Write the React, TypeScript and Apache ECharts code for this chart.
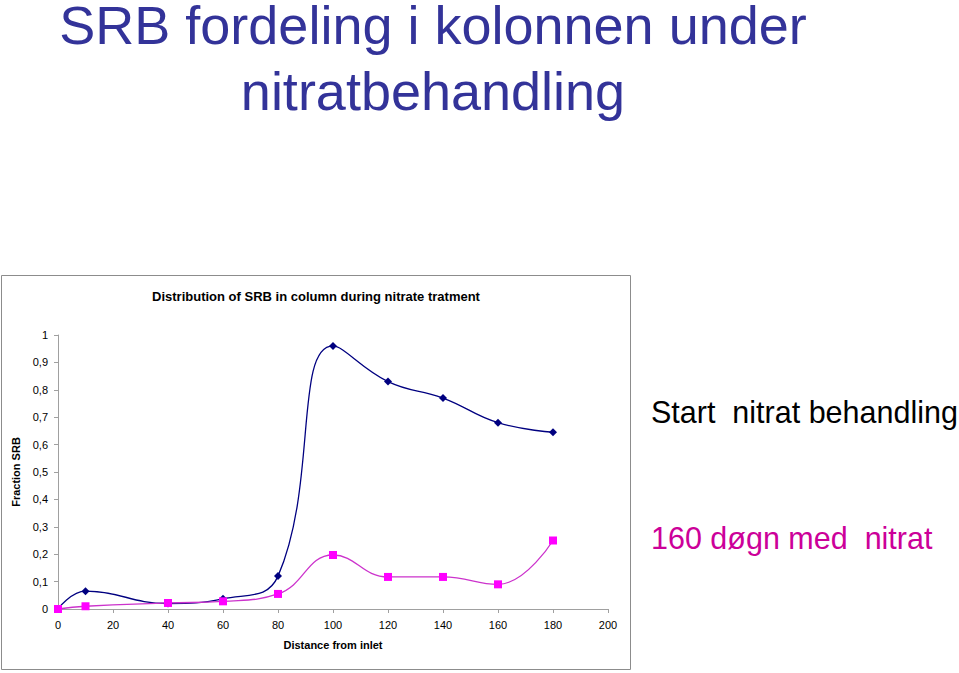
import React, { useEffect, useRef } from "react";
import * as echarts from "echarts";

const distances = [0, 10, 40, 60, 80, 100, 120, 140, 160, 180];
const startValues = [0, 0.065, 0.02, 0.037, 0.12, 0.96, 0.83, 0.77, 0.68, 0.645];
const after160Values = [0, 0.01, 0.022, 0.028, 0.055, 0.197, 0.117, 0.117, 0.09, 0.25];

const mainTitleLines = ["SRB fordeling i kolonnen under", "nitratbehandling"];
const chartTitle = "Distribution of SRB in column during nitrate tratment";
const yAxisName = "Fraction SRB";
const xAxisName = "Distance from inlet";
const startLabel = "Start  nitrat behandling";
const after160Label = "160 døgn med  nitrat";

const FONT = "Liberation Sans, Arial, Helvetica, sans-serif";

export default function App() {
  const ref = useRef<HTMLDivElement>(null);
  useEffect(() => {
    if (!ref.current) return;
    const chart = echarts.init(ref.current, null, { renderer: "svg" });
    const pair = (ys: number[]) => distances.map((d, i) => [d, ys[i]]);
    chart.setOption({
      animation: false,
      backgroundColor: "#ffffff",
      textStyle: { fontFamily: FONT },
      grid: { left: 58, right: 351, top: 335, bottom: 64, containLabel: false },
      xAxis: {
        type: "value",
        min: 0,
        max: 200,
        interval: 20,
        name: xAxisName,
        nameLocation: "middle",
        nameGap: 30,
        nameTextStyle: { fontFamily: FONT, fontSize: 11, fontWeight: "bold", color: "#000" },
        axisLine: { show: true, lineStyle: { color: "#a0a0a0", width: 1 } },
        axisTick: { show: true, inside: false, length: 4, lineStyle: { color: "#a0a0a0" } },
        axisLabel: { fontFamily: FONT, fontSize: 11, color: "#000", margin: 10 },
        splitLine: { show: false },
      },
      yAxis: {
        type: "value",
        min: 0,
        max: 1,
        interval: 0.1,
        name: yAxisName,
        nameLocation: "middle",
        nameGap: 31,
        nameRotate: 90,
        nameTextStyle: { fontFamily: FONT, fontSize: 11, fontWeight: "bold", color: "#000" },
        axisLine: { show: true, lineStyle: { color: "#a0a0a0", width: 1 } },
        axisTick: { show: true, inside: false, length: 4, lineStyle: { color: "#a0a0a0" } },
        axisLabel: {
          fontFamily: FONT,
          fontSize: 11,
          color: "#000",
          margin: 10,
          formatter: (v: number) => String(+v.toFixed(1)).replace(".", ","),
        },
        splitLine: { show: false },
      },
      series: [
        {
          name: startLabel,
          type: "line",
          data: pair(startValues),
          smooth: 0.45,
          symbol: "diamond",
          symbolSize: 8,
          lineStyle: { color: "#000080", width: 1.3 },
          itemStyle: { color: "#000080" },
          z: 2,
        },
        {
          name: after160Label,
          type: "line",
          data: pair(after160Values),
          smooth: 0.45,
          symbol: "rect",
          symbolSize: 8,
          lineStyle: { color: "#CC33CC", width: 1.3 },
          itemStyle: { color: "#FF00FF" },
          z: 3,
        },
      ],
      graphic: [
        {
          type: "rect",
          shape: { x: 1.5, y: 275.5, width: 629, height: 394 },
          style: { fill: "none", stroke: "#8c8c8c", lineWidth: 1 },
          z: -1,
          silent: true,
        },
        {
          type: "text",
          x: 433,
          y: 25,
          style: {
            text: mainTitleLines[0],
            fontFamily: FONT,
            fontSize: 54,
            lineHeight: 46,
            fill: "#333399",
            align: "center",
            verticalAlign: "middle",
          },
        },
        {
          type: "text",
          x: 433,
          y: 91,
          style: {
            text: mainTitleLines[1],
            fontFamily: FONT,
            fontSize: 54,
            lineHeight: 46,
            fill: "#333399",
            align: "center",
            verticalAlign: "middle",
          },
        },
        {
          type: "text",
          x: 316,
          y: 296,
          style: {
            text: chartTitle,
            fontFamily: FONT,
            fontSize: 13,
            fontWeight: "bold",
            fill: "#000",
            align: "center",
            verticalAlign: "middle",
          },
        },
        {
          type: "text",
          x: 651,
          y: 412,
          style: {
            text: startLabel,
            fontFamily: FONT,
            fontSize: 30.5,
            fill: "#000",
            align: "left",
            verticalAlign: "middle",
          },
        },
        {
          type: "text",
          x: 651,
          y: 538,
          style: {
            text: after160Label,
            fontFamily: FONT,
            fontSize: 30.5,
            fill: "#CC0099",
            align: "left",
            verticalAlign: "middle",
          },
        },
      ],
    });
    return () => chart.dispose();
  }, []);
  return <div ref={ref} style={{ width: 959, height: 673, position: "absolute", left: 0, top: 0 }} />;
}
